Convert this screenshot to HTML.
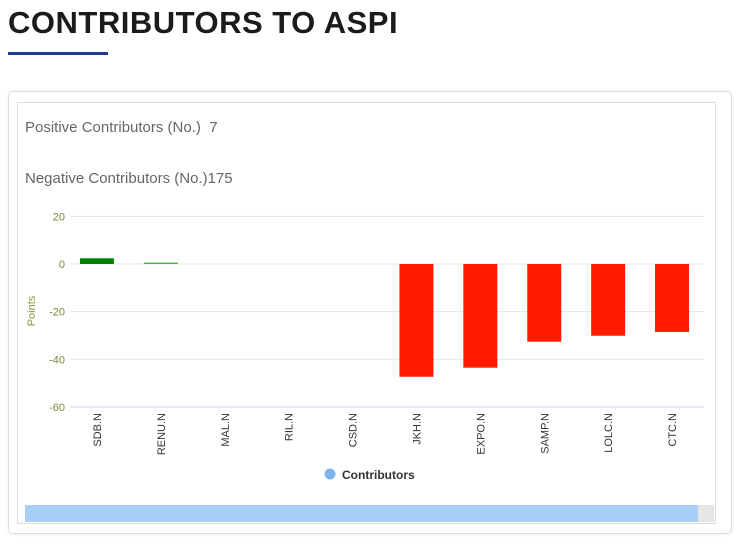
<!DOCTYPE html>
<html><head><meta charset="utf-8"><style>
body{margin:0;width:740px;height:549px;background:#fff;font-family:"Liberation Sans",sans-serif;position:relative;overflow:hidden}
.title{position:absolute;left:8px;top:5px;font-size:31px;font-weight:bold;color:#1b1b1b;letter-spacing:0.5px}
.ul{position:absolute;left:8px;top:52px;width:100px;height:3px;background:#1f3a9a}
.card{position:absolute;left:8px;top:91px;width:722px;height:441px;border:1px solid #ddd;border-radius:5px;box-shadow:0 0 4px rgba(0,0,0,0.08)}
.frame{position:absolute;left:17px;top:102px;width:697px;height:420px;border:1px solid #ddd}
.stat{position:absolute;left:25px;font-size:15px;color:#666}
</style></head><body>
<div class="title">CONTRIBUTORS TO ASPI</div>
<div class="ul"></div>
<div class="card"></div>
<div class="frame"></div>
<div class="stat" style="top:119px">Positive Contributors (No.)&nbsp; 7</div>
<div class="stat" style="top:170px">Negative Contributors (No.)175</div>
<svg id="chart" width="740" height="549" style="position:absolute;left:0;top:0"></svg>
<script>
const categories=["SDB.N","RENU.N","MAL.N","RIL.N","CSD.N","JKH.N","EXPO.N","SAMP.N","LOLC.N","CTC.N"];
const values=[2.4,0.6,0,0,0,-47.3,-43.5,-32.6,-30.1,-28.5];
const ticks=[20,0,-20,-40,-60];
const svg=document.getElementById('chart');
const NS='http://www.w3.org/2000/svg';
const x0=65,x1=704,band=(x1-x0)/categories.length;
const y=v=>264-v*(407-264)/60;
function mk(t,a){const e=document.createElementNS(NS,t);for(const k in a)e.setAttribute(k,a[k]);svg.appendChild(e);return e;}
ticks.forEach(t=>{
 const l=mk('line',{x1:70,x2:x1,y1:y(t),y2:y(t),stroke:t===-60?'#ccd6eb':'#e6e6e6','stroke-width':1});
 
 
 const tx=mk('text',{x:65,y:y(t)+4,'text-anchor':'end','font-size':11,fill:'#7a8a3a','font-family':'Liberation Sans, sans-serif'});
 tx.textContent=t;
 
 
});
const yt=mk('text',{x:0,y:0,transform:'translate(35,311) rotate(-90)','text-anchor':'middle','font-size':11,fill:'#8a9a3a','font-family':'Liberation Sans, sans-serif'});
yt.textContent='Points';


categories.forEach((c,i)=>{
 const cx=x0+band*(i+0.5),v=values[i],w=34;
 const top=Math.min(y(v),y(0)),h=Math.abs(y(v)-y(0));
 const col=v>=0?(i===0?'#008000':'#4caf50'):'#ff1a00';
 const r=mk('rect',{x:cx-w/2,y:top,width:w,height:h,fill:col});
 
 
 const t=mk('text',{x:0,y:0,transform:`translate(${cx+4},${413}) rotate(-90)`,'text-anchor':'end','font-size':11,fill:'#333','font-family':'Liberation Sans, sans-serif'});
 t.textContent=c;
 
 
});
const lc=mk('circle',{cx:330,cy:474,r:5.5,fill:'#7cb5ec'});


const lt=mk('text',{x:342,y:479,'font-size':12,'font-weight':'bold',fill:'#333','font-family':'Liberation Sans, sans-serif'});
lt.textContent='Contributors';


const tr=mk('rect',{x:25,y:505,width:689,height:17,fill:'#e6e6e6'});


const th=mk('rect',{x:25,y:505,width:673,height:17,fill:'#a8cff8'});


</script>
</body></html>
